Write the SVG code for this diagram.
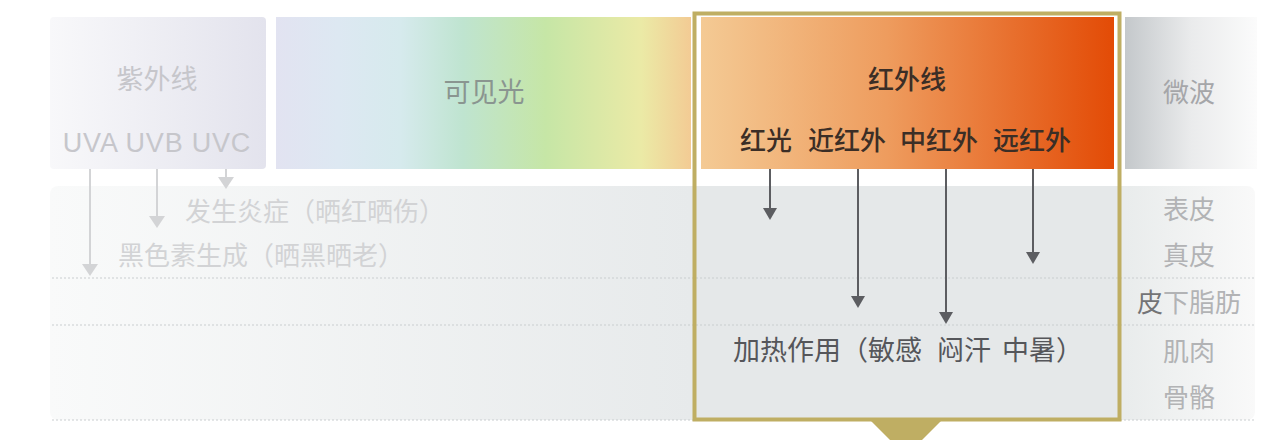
<svg xmlns="http://www.w3.org/2000/svg" width="1286" height="440" viewBox="0 0 1286 440">
<defs>
<style>
text{font-family:"Noto Sans CJK SC","Noto Sans",sans-serif;text-anchor:middle}
.lat{font-family:"Liberation Sans","Noto Sans CJK SC",sans-serif}
.uv{fill:#c6c6cb;font-size:27px}
.uvfx{fill:#d2d3d5;font-size:26px;text-anchor:start}
.ir{fill:#3b2e26;font-size:26px;font-weight:500}
.lay{fill:#b2b3b5;font-size:26px}
.heat{fill:#55565a;font-size:27px;text-anchor:start}
.dot{stroke:#c9cdcf;stroke-width:1.2;stroke-dasharray:2 2;fill:none}
.uvl{stroke:#d3d4d6;stroke-width:2;fill:none}
.irl{stroke:#5c5d61;stroke-width:2;fill:none}
</style>
<linearGradient id="gUV" x1="0" y1="0" x2="1" y2="0">
<stop offset="0" stop-color="#f8f8fa"/><stop offset="1" stop-color="#e3e3ed"/>
</linearGradient>
<linearGradient id="gVis" x1="0" y1="0" x2="1" y2="0">
<stop offset="0" stop-color="#e2e3f1"/><stop offset="0.15" stop-color="#dde8f2"/>
<stop offset="0.3" stop-color="#d6eaed"/><stop offset="0.45" stop-color="#bfe4d0"/>
<stop offset="0.65" stop-color="#c6e6a6"/><stop offset="0.88" stop-color="#ebeaa6"/>
<stop offset="1" stop-color="#f3cb94"/>
</linearGradient>
<linearGradient id="gIR" x1="0" y1="0" x2="1" y2="0">
<stop offset="0" stop-color="#f4ca94"/><stop offset="0.45" stop-color="#ee9c5e"/>
<stop offset="1" stop-color="#e34b06"/>
</linearGradient>
<linearGradient id="gMW" x1="0" y1="0" x2="1" y2="0">
<stop offset="0" stop-color="#c4c8cb"/><stop offset="0.5" stop-color="#eaebec"/><stop offset="1" stop-color="#fbfbfb"/>
</linearGradient>
<linearGradient id="gPanel" gradientUnits="userSpaceOnUse" x1="50" y1="0" x2="1255" y2="0">
<stop offset="0" stop-color="#f9fafa"/><stop offset="0.532" stop-color="#e7eaeb"/>
<stop offset="0.893" stop-color="#e9ecec"/><stop offset="1" stop-color="#f9f9f9"/>
</linearGradient>
</defs>
<rect width="1286" height="440" fill="#ffffff"/>

<g id="skin-layers">
<rect x="50" y="186" width="1205" height="234" rx="8" fill="url(#gPanel)"/>
<rect x="696" y="186" width="423" height="232" fill="#e5e8e9"/>
<line class="dot" x1="52" y1="278" x2="1255" y2="278"/>
<line class="dot" x1="52" y1="325" x2="1255" y2="325"/>
<line class="dot" x1="52" y1="420" x2="1255" y2="420"/>
<text class="lay" x="1189" y="219">表皮</text>
<text class="lay" x="1189" y="265">真皮</text>
<text class="lay" x="1189" y="312"><tspan fill="#737476">皮</tspan>下脂肪</text>
<text class="lay" x="1189" y="361">肌肉</text>
<text class="lay" x="1189" y="407">骨骼</text>
</g>

<g id="uv">
<rect x="50" y="17" width="216" height="152" rx="4" fill="url(#gUV)"/>
<text class="uv" x="157" y="89">紫外线</text>
<text class="uv lat" x="157" y="152" font-size="28" letter-spacing="0.8">UVA UVB UVC</text>
</g>

<g id="visible">
<rect x="276" y="17" width="415" height="152" fill="url(#gVis)"/>
<text x="484" y="102" font-size="27" fill="#8a9590">可见光</text>
</g>

<g id="infrared">
<rect x="701" y="17" width="413" height="152" fill="url(#gIR)"/>
<text class="ir" x="907" y="89">红外线</text>
<text class="ir" x="766" y="150">红光</text>
<text class="ir" x="847" y="150">近红外</text>
<text class="ir" x="939" y="150">中红外</text>
<text class="ir" x="1032" y="150">远红外</text>
</g>

<g id="microwave">
<rect x="1125" y="17" width="132" height="152" fill="url(#gMW)"/>
<text x="1189" y="102" font-size="26" fill="#a5a6a9">微波</text>
</g>

<g id="uv-effects">
<text class="uvfx" x="185" y="221">发生炎症（晒红晒伤）</text>
<text class="uvfx" x="118" y="265">黑色素生成（晒黑晒老）</text>
</g>

<g id="ir-effect">
<text class="heat" x="733" y="360">加热作用（敏感</text>
<text class="heat" x="937" y="360">闷汗</text>
<text class="heat" x="1002" y="360">中暑）</text>
</g>

<g id="highlight">
<rect x="694.5" y="13.5" width="425" height="406" fill="none" stroke="#bfae63" stroke-width="4"/>
<polygon points="870,420 942,420 906,456" fill="#bfae63"/>
</g>

<g id="connectors">
<path class="uvl" d="M90 169 V266"/><path d="M82 264 L98 264 L90 276 Z" fill="#d3d4d6"/>
<path class="uvl" d="M157 169 V218"/><path d="M149 216 L165 216 L157 228 Z" fill="#d3d4d6"/>
<path class="uvl" d="M226 169 V179"/><path d="M218 177 L234 177 L226 189 Z" fill="#d3d4d6"/>
<path class="irl" d="M770 169 V210"/><path d="M763 208 L777 208 L770 220 Z" fill="#5c5d61"/>
<path class="irl" d="M858 169 V298"/><path d="M851 296 L865 296 L858 308 Z" fill="#5c5d61"/>
<path class="irl" d="M946 169 V314"/><path d="M939 312 L953 312 L946 324 Z" fill="#5c5d61"/>
<path class="irl" d="M1033 169 V254"/><path d="M1026 252 L1040 252 L1033 264 Z" fill="#5c5d61"/>
</g>
</svg>
